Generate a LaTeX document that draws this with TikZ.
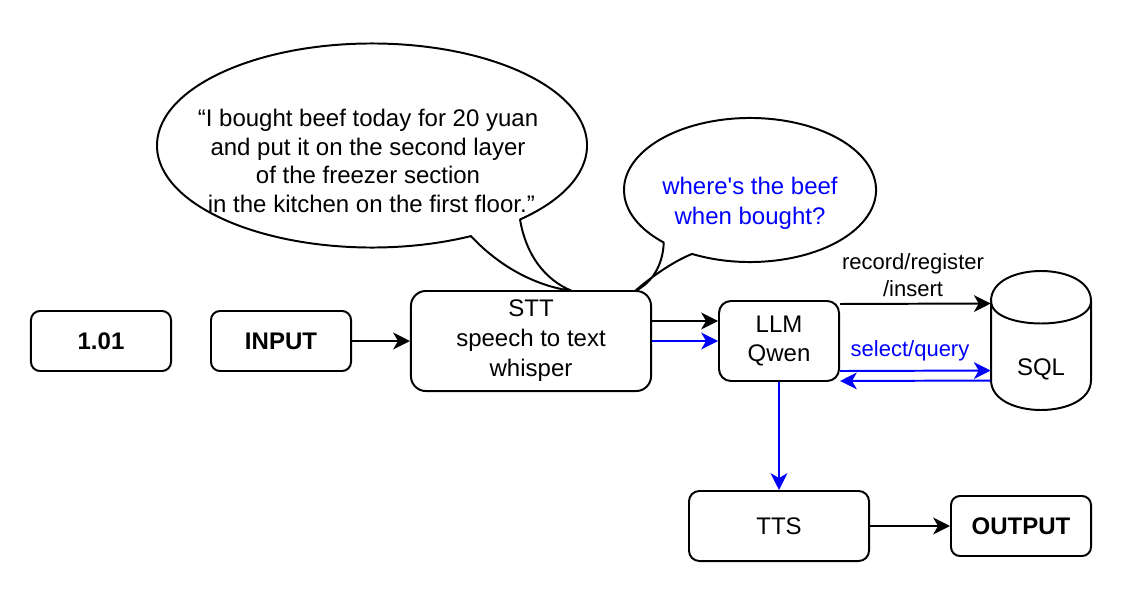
\documentclass[tikz,border=0pt]{standalone}
\usepackage{fontspec}
\setmainfont{Liberation Sans}
\usetikzlibrary{arrows.meta}

\begin{document}
\begin{tikzpicture}[x=0.025cm,y=0.025cm,line join=round,box/.style={draw,line width=1.4pt,fill=white,rounded corners=0.225cm,inner sep=0pt,minimum width=3.5cm,minimum height=1.5cm,font=\fontsize{17.07}{21.3}\selectfont,align=center},bubble/.style={draw,line width=1.4pt,fill=white},flow/.style={line width=1.4pt,-{Stealth[length=0.42cm,width=0.42cm,inset=0.12cm]}},query/.style={flow,blue},say/.style={font=\fontsize{17.07}{21.3}\selectfont,align=center},tag/.style={font=\fontsize{15.65}{18.8}\selectfont,align=center}]
\useasboundingbox (0,0) rectangle (1122,594);
\coordinate (bigc) at (372,448.5);
\coordinate (bigtip) at (572,303);
\coordinate (smc) at (750,404);
\coordinate (smtip) at (635,303);
\path (bigc) ++(-46.5:5.375cm and 2.55cm) coordinate (bigR);
\path (smc) ++(242.6:3.15cm and 1.8cm) coordinate (smR);
\draw[bubble] (bigR) arc[start angle=-46.5,end angle=297.4,x radius=5.375cm,y radius=2.55cm] .. controls (495,332) and (530,309) .. (bigtip) .. controls (545,314) and (526,339) .. (bigR) -- cycle;
\draw[bubble] (smR) arc[start angle=242.6,end angle=586.8,x radius=3.15cm,y radius=1.8cm] .. controls (663,329) and (652,311) .. (smtip) .. controls (650,316) and (672,332) .. (smR) -- cycle;
\node[say,font=\fontsize{17.07}{20.5}\selectfont] (saytext) at (368,433) {“I bought beef today for 20 yuan\\and put it on the second layer\\of the freezer section\\\ in the kitchen on the first floor.”};
\node[say,text=blue] (asktext) at (750,390.5) {where\textquotesingle s the beef\\when bought?};
\node[box,font=\fontsize{17.07}{21.3}\selectfont\bfseries] (version) at (101,253) {1.01};
\node[box,font=\fontsize{17.07}{21.3}\selectfont\bfseries] (input) at (281,253) {INPUT};
\node[box,minimum width=6cm,minimum height=2.5cm,rounded corners=0.37cm] (stt) at (531,253) {STT\\speech to text\\whisper};
\node[box,minimum width=3cm,minimum height=2cm,rounded corners=0.3cm] (llm) at (779,253) {LLM\\Qwen};
\node[minimum width=2.5cm,minimum height=3.475cm,inner sep=0pt] (sql) at (1041,253.5) {};
\draw[bubble] (991,293) .. controls (991,333) and (1091,333) .. (1091,293) -- (1091,214) .. controls (1091,174) and (991,174) .. (991,214) -- cycle;
\draw[line width=1.4pt] (991,293) .. controls (991,263) and (1091,263) .. (1091,293);
\node[say] (sqltext) at (1041,225) {SQL};
\node[box,minimum width=4.5cm,minimum height=1.75cm,rounded corners=0.26cm] (tts) at (779,68) {TTS};
\node[box,font=\fontsize{17.07}{21.3}\selectfont\bfseries] (output) at (1021,68) {OUTPUT};
\draw[flow] (input) -- (stt);
\draw[flow] ([yshift=0.5cm]stt.east) -- ([yshift=0.5cm]llm.west);
\draw[query] (stt) -- (llm);
\draw[flow] ([yshift=0.925cm]llm.east) -- ([yshift=0.925cm]sql.west);
\draw[query] ([yshift=-0.75cm]llm.east) -- ([yshift=-0.75cm]sql.west);
\draw[query] ([yshift=-1cm]sql.west) -- ([yshift=-1cm]llm.east);
\draw[query] (llm) -- (tts);
\draw[flow] (tts) -- (output);
\node[tag] (recordtag) at (913,319) {record/register\\/insert};
\node[tag,text=blue] (querytag) at (910,243) {select/query};
\end{tikzpicture}
\end{document}
